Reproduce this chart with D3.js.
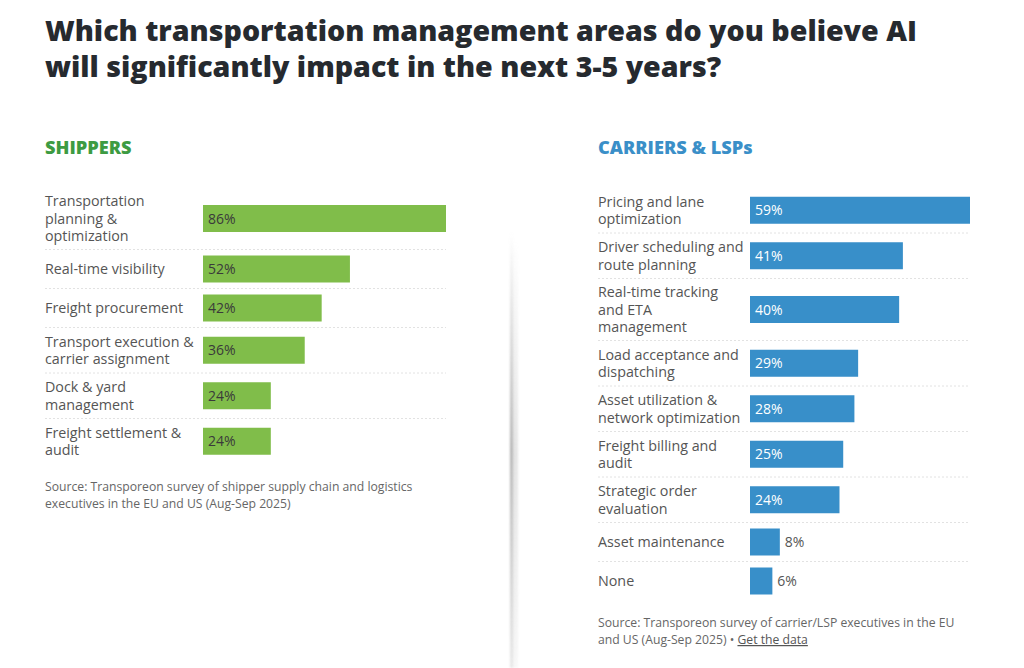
<!DOCTYPE html>
<html>
  <head>
    <meta charset="utf-8">
    <title>AI in transportation management</title>
    <style>
      html, body { margin: 0; padding: 0; background: #fff; }
      svg { display: block; font-family: "Open Sans", "Noto Sans", sans-serif; }
    </style>
  </head>
  <body>
    <script src="https://cdn.jsdelivr.net/npm/d3@7"></script>
    <script>
      // question + panel titles
      var titleLines = ["Which transportation management areas do you believe AI",
                        "will significantly impact in the next 3-5 years?"];

      // shippers panel (labels are pre-wrapped like the original)
      var shipperCategories = ["Transportation\nplanning &\noptimization", "Real-time visibility",
        "Freight procurement", "Transport execution &\ncarrier assignment",
        "Dock & yard\nmanagement", "Freight settlement &\naudit"];
      var shipperValues = [86, 52, 42, 36, 24, 24];
      var shipperSource = ["Source: Transporeon survey of shipper supply chain and logistics",
                           "executives in the EU and US (Aug-Sep 2025)"];

      // carriers & LSPs panel
      var carrierCategories = ["Pricing and lane\noptimization", "Driver scheduling and\nroute planning",
        "Real-time tracking\nand ETA\nmanagement", "Load acceptance and\ndispatching",
        "Asset utilization &\nnetwork optimization", "Freight billing and\naudit",
        "Strategic order\nevaluation", "Asset maintenance", "None"];
      var carrierValues = [59, 41, 40, 29, 28, 25, 24, 8, 6];
      var carrierSource = ["Source: Transporeon survey of carrier/LSP executives in the EU",
                           "and US (Aug-Sep 2025)"];

      var W = 1024, H = 668;
      var svg = d3.select("body").append("svg").attr("width", W).attr("height", H);

      // soft vertical card shadow between the panels
      var defs = svg.append("defs");
      var grad = defs.append("linearGradient").attr("id", "shade")
        .attr("x1", 0).attr("x2", 0).attr("y1", 0).attr("y2", 1);
      grad.append("stop").attr("offset", "0%").attr("stop-color", "#b8b8b8").attr("stop-opacity", 0);
      grad.append("stop").attr("offset", "50%").attr("stop-color", "#b4b4b4").attr("stop-opacity", 1);
      grad.append("stop").attr("offset", "100%").attr("stop-color", "#b8b8b8").attr("stop-opacity", 0.3);
      defs.append("filter").attr("id", "blur").attr("x", "-300%").attr("width", "700%")
        .append("feGaussianBlur").attr("stdDeviation", 1.3);
      svg.append("rect").attr("x", 510).attr("y", 232).attr("width", 3).attr("height", 436)
        .attr("fill", "url(#shade)").attr("filter", "url(#blur)");
      svg.append("rect").attr("x", 512).attr("y", 240).attr("width", 6).attr("height", 428)
        .attr("fill", "url(#shade)").attr("opacity", 0.35).attr("filter", "url(#blur)");

      svg.append("g").selectAll("text").data(titleLines).join("text")
        .attr("x", 45).attr("y", function(d, i){ return 41 + i * 36; })
        .attr("font-size", 28.6).attr("font-weight", 800).attr("fill", "#262a2f")
        .text(function(d){ return d; });

      function panel(opt){
        var g = svg.append("g");
        g.append("text").attr("x", opt.left).attr("y", 154)
          .attr("font-size", 18.2).attr("font-weight", 800).attr("fill", opt.head)
          .text(opt.title);

        var lines = opt.cats.map(function(c){ return c.split("\n"); });
        var heights = lines.map(function(l){ return Math.max(39, l.length * 16.5 + 12.5); });
        var tops = [0].concat(Array.from(d3.cumsum(heights)));
        var y = d3.scaleOrdinal(opt.cats, opt.cats.map(function(c, i){
          return 187.5 + tops[i] + heights[i] / 2; }));
        var x = d3.scaleLinear().domain([0, opt.max]).range([opt.barX, opt.right]);

        // dotted row separators
        g.selectAll("line.sep").data(opt.cats.slice(0, -1)).join("line").attr("class", "sep")
          .attr("x1", opt.left).attr("x2", opt.right)
          .attr("y1", function(d, i){ return 187.5 + tops[i + 1]; })
          .attr("y2", function(d, i){ return 187.5 + tops[i + 1]; })
          .attr("stroke", "#e2e2e2").attr("stroke-dasharray", "2,2");

        var row = g.selectAll("g.row").data(opt.cats).join("g").attr("class", "row");
        row.append("text").attr("font-size", 14.3).attr("fill", "#555")
          .selectAll("tspan").data(function(d, i){ return lines[i].map(function(t){ return [t, lines[i].length, y(d)]; }); })
          .join("tspan").attr("x", opt.left)
          .attr("y", function(d, j){ return d[2] + 5 + (j - (d[1] - 1) / 2) * 17.5; })
          .text(function(d){ return d[0]; });

        row.append("rect").attr("x", x(0))
          .attr("y", function(d){ return y(d) - 13.5; }).attr("height", 27)
          .attr("width", function(d, i){ return x(opt.vals[i]) - x(0); })
          .attr("fill", opt.bar);

        row.append("text").attr("font-size", 14)
          .attr("x", function(d, i){ var w = x(opt.vals[i]) - x(0); return w < 40 ? x(opt.vals[i]) + 5 : x(0) + 5; })
          .attr("y", function(d){ return y(d) + 5; })
          .attr("fill", function(d, i){ return x(opt.vals[i]) - x(0) < 40 ? "#555" : opt.ink; })
          .text(function(d, i){ return opt.vals[i] + "%"; });

        var src = g.append("text").attr("font-size", 12.2).attr("fill", "#666");
        opt.source.forEach(function(s, i){
          src.append("tspan").attr("x", opt.left).attr("y", opt.srcY + i * 17).text(s);
        });
        return src;
      }

      panel({ title: "SHIPPERS", head: "#3d9b42", bar: "#80bd4a", ink: "#3a3a3a",
        cats: shipperCategories, vals: shipperValues, max: 86,
        left: 45, barX: 203, right: 446, source: shipperSource, srcY: 491 });

      var src = panel({ title: "CARRIERS & LSPs", head: "#3a8fc8", bar: "#388fc9", ink: "#fff",
        cats: carrierCategories, vals: carrierValues, max: 59,
        left: 598, barX: 750, right: 970, source: carrierSource, srcY: 627 });

      src.select("tspan:last-child").append("tspan").text("  \u2022 ");
      src.select("tspan:last-child").append("tspan").attr("text-decoration", "underline")
        .attr("fill", "#555").text("Get the data");
    </script>
  </body>
</html>
